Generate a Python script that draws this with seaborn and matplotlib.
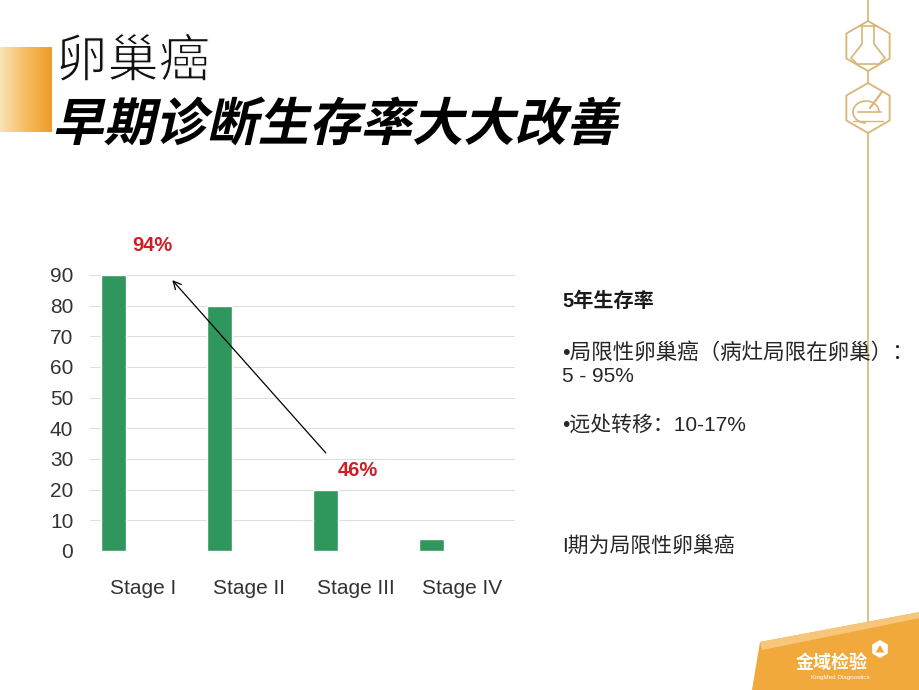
import numpy as np
import matplotlib
matplotlib.use("Agg")
import matplotlib.pyplot as plt
import seaborn as sns
import pandas as pd
from matplotlib.colors import LinearSegmentedColormap
from matplotlib.patches import Polygon, RegularPolygon, Arc
from matplotlib.patheffects import AbstractPathEffect, Normal, Stroke
from matplotlib.transforms import Affine2D

# ---------------- data ----------------
stages = ["Stage I", "Stage II", "Stage III", "Stage IV"]
survival = [90, 80, 20, 4]
yticks = [0, 10, 20, 30, 40, 50, 60, 70, 80, 90]
label_top = "94%"
label_low = "46%"
title1 = "卵巢癌"
title2 = "早期诊断生存率大大改善"
side_head = "5年生存率"
side_lines = ["•局限性卵巢癌（病灶局限在卵巢）：", "5 - 95%", "•远处转移：10-17%"]
side_note = "I期为局限性卵巢癌"


class Slant(AbstractPathEffect):
    """Draw text with a synthetic oblique (italic) slant."""
    def __init__(self, deg=13):
        super().__init__()
        self.deg = deg

    def draw_path(self, renderer, gc, tpath, affine, rgbFace=None):
        x0, y0 = affine.transform((0, 0))
        sk = Affine2D().translate(-x0, -y0).skew_deg(self.deg, 0).translate(x0, y0)
        renderer.draw_path(gc, tpath, affine + sk, rgbFace)


sns.set_theme(style="white")
plt.rcParams['font.family'] = ['Liberation Sans', 'Noto Sans CJK SC', 'DejaVu Sans']

fig = plt.figure(figsize=(9.2, 6.9), dpi=100)
fig.patch.set_facecolor("white")

# ---------- decoration layer in pixel coordinates ----------
deco = fig.add_axes([0, 0, 1, 1], zorder=0)
deco.set_xlim(0, 920)
deco.set_ylim(690, 0)
deco.axis("off")

# orange gradient block at left
cmap = LinearSegmentedColormap.from_list("og", ["#fbe3b8", "#f5bd5e", "#f09d28"])
grad = np.linspace(0, 1, 100).reshape(1, -1)
deco.imshow(grad, cmap=cmap, extent=(0, 52, 132, 47), aspect="auto", zorder=1)

gold = "#d8b676"
# vertical gold line
deco.plot([868, 868], [0, 640], color=gold, lw=1.2, zorder=1)
# hexagon logos
for cy in (46, 108):
    deco.add_patch(RegularPolygon((868, cy), numVertices=6, radius=25,
                                  orientation=0, fill=True, facecolor="white",
                                  edgecolor=gold, lw=1.3, zorder=2))
# flask inside top hexagon
deco.plot([862, 862, 851, 857, 879, 885, 874, 874],
          [26, 44, 58, 64, 64, 58, 44, 26], color=gold, lw=1.2, zorder=3)
deco.plot([859, 877], [26, 26], color=gold, lw=1.2, zorder=3)
# G shape inside lower hexagon
deco.add_patch(Arc((866, 112), 26, 22, theta1=180, theta2=360, color=gold, lw=1.2, zorder=3))
deco.add_patch(Arc((866, 112), 26, 22, theta1=90, theta2=180, color=gold, lw=1.2, zorder=3))
deco.plot([858, 881], [112, 112], color=gold, lw=1.2, zorder=3)
deco.plot([870, 882], [108, 92], color=gold, lw=1.6, zorder=3)
deco.plot([853, 883], [121, 121], color=gold, lw=1.0, zorder=3)

# bottom-right orange band with company logo
deco.add_patch(Polygon([[752, 690], [760, 642], [920, 612], [920, 690]],
                       closed=True, facecolor="#f1a93c", edgecolor="none", zorder=2))
deco.add_patch(Polygon([[760, 642], [920, 612], [920, 618], [762, 650]],
                       closed=True, facecolor="#f6c77a", edgecolor="none", zorder=2))
deco.text(832, 662, "金域检验", color="white", fontsize=13, fontweight="bold",
          ha="center", va="center", family=["Noto Sans CJK SC"], zorder=3)
deco.text(840, 678, "KingMed Diagnostics", color="white", fontsize=4.5,
          ha="center", va="center", zorder=3)
deco.add_patch(RegularPolygon((880, 649), numVertices=6, radius=9, orientation=0,
                              facecolor="white", edgecolor="none", zorder=3))
deco.add_patch(RegularPolygon((880, 650), numVertices=3, radius=5, orientation=np.pi,
                              facecolor="#f1a93c", edgecolor="none", zorder=4))

# titles
deco.text(56, 62, title1, fontsize=37, color="#111111",
          family=["Noto Sans CJK SC"], ha="left", va="center", zorder=3,
          path_effects=[Normal(), Stroke(linewidth=0.9, foreground="white")])
deco.text(52, 125, title2, fontsize=37, color="#000000", fontweight="bold",
          family=["Noto Sans CJK SC"], ha="left", va="center", zorder=3,
          path_effects=[Slant(13)])

# side text
txt_fam = ['Liberation Sans', 'Noto Sans CJK SC']
deco.text(562, 301, side_head, fontsize=14.5, fontweight="bold", color="#1a1a1a",
          family=txt_fam, ha="left", va="center", zorder=3)
deco.text(562, 353, side_lines[0], fontsize=15.5, color="#262626",
          family=txt_fam, ha="left", va="center", zorder=3)
deco.text(562, 376, side_lines[1], fontsize=15, color="#262626",
          family=txt_fam, ha="left", va="center", zorder=3)
deco.text(562, 425, side_lines[2], fontsize=15, color="#262626",
          family=txt_fam, ha="left", va="center", zorder=3)
deco.text(562, 546, side_note, fontsize=15, color="#262626",
          family=txt_fam, ha="left", va="center", zorder=3)

# ---------------- chart ----------------
ax = fig.add_axes([90 / 920, (690 - 551) / 690, 425 / 920, 276 / 690], zorder=1)
ax.set_facecolor("none")
df = pd.DataFrame({"stage": stages, "survival": survival})
sns.barplot(data=df, x="stage", y="survival", order=stages, color="#2f965c",
            saturation=1, width=0.236, ax=ax, zorder=3)

ax.set_xlim(-0.217, 3.783)
ax.set_ylim(0, 90)
ax.set_yticks(yticks)
ax.set_yticklabels([str(v) for v in yticks])
ax.set_xticks([i + 0.283 for i in range(len(stages))])
ax.set_xticklabels(stages)
ax.yaxis.grid(True, color="#dedede", lw=0.8)
ax.xaxis.grid(False)
ax.set_axisbelow(True)
for s in ax.spines.values():
    s.set_visible(False)
ax.tick_params(axis="y", length=0, pad=12, labelsize=15, labelcolor="#333333")
ax.tick_params(axis="x", length=0, pad=20, labelsize=15, labelcolor="#333333")
ax.set_xlabel("")
ax.set_ylabel("")

# annotations
ax.annotate("", xy=(0.54, 89), xytext=(2.02, 31.3),
            arrowprops=dict(arrowstyle="->", color="black", lw=0.9,
                            mutation_scale=14), zorder=5, annotation_clip=False)
ax.text(0.37, 99.5, label_top, color="#cc1f26", fontsize=14.5, fontweight="bold",
        ha="center", va="center", clip_on=False)
ax.text(2.30, 26.4, label_low, color="#cc1f26", fontsize=14.5, fontweight="bold",
        ha="center", va="center", clip_on=False)

fig.savefig("out.png", dpi=100, facecolor="white")
